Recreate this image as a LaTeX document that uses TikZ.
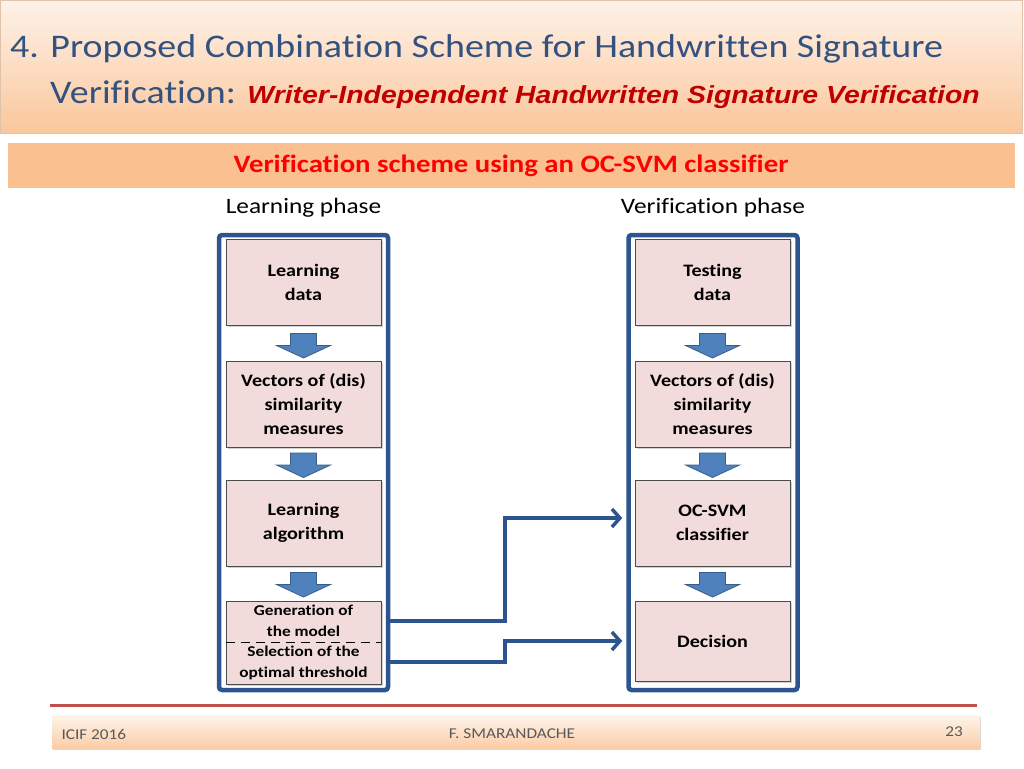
\documentclass[tikz,border=0pt]{standalone}
\usepackage{fontspec}
\setmainfont{Carlito}[FakeStretch=1.15, Ligatures=NoCommon]
\newfontfamily\arialfont{Liberation Sans}[FakeStretch=1.15]
\usetikzlibrary{shadows,arrows.meta}
\definecolor{titleblue}{HTML}{34527F}
\definecolor{titlered}{HTML}{C00000}
\definecolor{bandorange}{HTML}{FAC090}
\definecolor{bandlight}{HTML}{FDEADA}
\definecolor{boxpink}{HTML}{F2DCDB}
\definecolor{frameblue}{HTML}{2C5590}
\definecolor{arrowfill}{HTML}{4F81BD}
\definecolor{arrowline}{HTML}{385D8A}
\definecolor{rulered}{HTML}{C0504D}
\definecolor{footgray}{HTML}{595959}
\tikzset{
  stage/.style={draw=black!70, fill=boxpink, minimum width=155pt, minimum height=86pt,
    align=center, inner sep=2pt, font=\bfseries\fontsize{17.5}{24}\selectfont,
    drop shadow={shadow xshift=1.5pt, shadow yshift=-1.5pt, opacity=0.35}},
  phase/.style={draw=frameblue, fill=white, line width=4.5pt, rounded corners=3pt, inner sep=0pt,
    drop shadow={shadow xshift=1.5pt, shadow yshift=-1.5pt, opacity=0.3}},
  link/.style={draw=frameblue, line width=4pt,
    -{Straight Barb[length=8pt, width=18pt, line width=3.5pt]}},
  pics/flowarrow/.style={code={
    \filldraw[fill=arrowfill, draw=arrowline, line width=0.8pt]
      (-13,-12) -- (13,-12) -- (13,0) -- (27,0) -- (0,12.5) -- (-27,0) -- (-13,0) -- cycle;}}
}
\begin{document}
\begin{tikzpicture}[x=1pt, y=-1pt]
  \useasboundingbox (0,0) rectangle (1024,768);
  \shade[top color=bandlight!60!white, bottom color=bandorange!90!white, draw=bandorange!80!black!60]
    (0,0) rectangle (1022,133);
  \node[anchor=base west, text=titleblue, font=\fontsize{33}{38}\selectfont, inner sep=0pt] (title1) at (10,58)
    {4. Proposed Combination Scheme for Handwritten Signature};
  \node[anchor=base west, text=titleblue, font=\fontsize{33}{38}\selectfont, inner sep=0pt] (title2) at (50,103)
    {Verification: {\arialfont\bfseries\itshape\fontsize{24.7}{28}\selectfont\color{titlered}Writer-Independent Handwritten Signature Verification}};

  \fill[bandorange] (8,143) rectangle (1015,188);
  \node[text=red, font=\bfseries\fontsize{25}{28}\selectfont] (scheme) at (511,166)
    {Verification scheme using an OC-SVM classifier};
  \node[font=\fontsize{22}{24}\selectfont] (learnphase) at (303.5,208) {Learning phase};
  \node[font=\fontsize{22}{24}\selectfont] (verifphase) at (713,208) {Verification phase};

  \node[phase, minimum width=169pt, minimum height=455pt] (learnframe) at (303.5,462.5) {};
  \node[phase, minimum width=169pt, minimum height=455pt] (verifframe) at (713,462.5) {};

  \node[stage] (learndata) at (303.5,282) {Learning\\data};
  \node[stage] (learnvec) at (303.5,404) {Vectors of (dis)\\similarity\\measures};
  \node[stage] (algo) at (303.5,523) {Learning\\algorithm};
  \node[stage, minimum height=83pt, font=\bfseries\fontsize{15}{20.5}\selectfont] (model) at (303.5,642.5)
    {Generation of\\the model\\Selection of the\\optimal threshold};
  \draw[dash pattern=on 9pt off 6pt, line width=1.6pt] (model.west) -- (model.east);

  \node[stage] (testdata) at (712.5,282) {Testing\\data};
  \node[stage] (testvec) at (712.5,404) {Vectors of (dis)\\similarity\\measures};
  \node[stage] (ocsvm) at (712.5,523) {OC-SVM\\classifier};
  \node[stage, minimum height=80pt] (decision) at (712.5,641) {Decision};

  \pic at (303.5,345.5) {flowarrow};
  \pic at (303.5,465) {flowarrow};
  \pic at (303.5,584.5) {flowarrow};
  \pic at (712.5,345.5) {flowarrow};
  \pic at (712.5,465) {flowarrow};
  \pic at (712.5,584.5) {flowarrow};

  \coordinate (bend1) at (505,621);
  \coordinate (bend2) at (505,662);
  \coordinate (level1) at (0,518);
  \draw[link] (learnframe.east |- bend1) -- (bend1) |- ([xshift=-4pt]verifframe.west |- level1);
  \draw[link] (learnframe.east |- bend2) -- (bend2) |- ([xshift=-4pt]verifframe.west |- decision);

  \draw[rulered, line width=3pt] (50,705) -- (977,705);
  \shade[top color=bandlight!50!white, bottom color=bandorange!80!white,
    drop shadow={shadow xshift=1pt, shadow yshift=-2pt, opacity=0.3}] (52,715) rectangle (980,748);
  \node[anchor=west, text=footgray, font=\fontsize{15}{17}\selectfont] (conf) at (58,734) {ICIF 2016};
  \node[text=footgray, font=\fontsize{15}{17}\selectfont] (author) at (512,734) {F. SMARANDACHE};
  \node[text=footgray, font=\fontsize{15}{17}\selectfont] (page) at (954,732) {23};
\end{tikzpicture}
\end{document}
